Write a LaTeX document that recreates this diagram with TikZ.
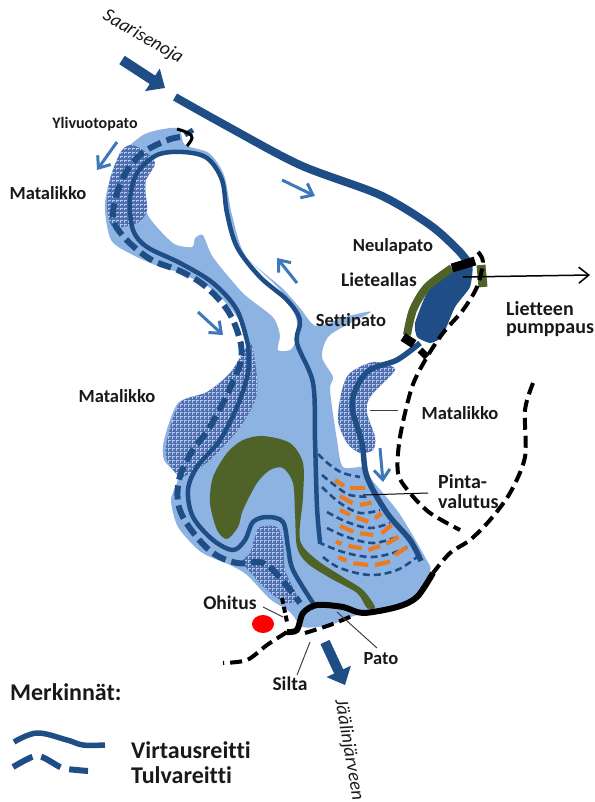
\documentclass[tikz,border=0pt]{standalone}
\usepackage{fontspec}
\setmainfont[Ligatures=NoCommon]{Carlito}
\usetikzlibrary{arrows.meta}
\definecolor{lake}{HTML}{8DB3E2}
\definecolor{river}{HTML}{1F4E87}
\definecolor{mud}{HTML}{4F6228}
\definecolor{flow}{HTML}{3F78B8}
\definecolor{orng}{HTML}{E87B23}
\definecolor{stip}{HTML}{4F6FB0}
\definecolor{stipl}{HTML}{B5C9EA}
\newcommand{\fs}[1]{\fontsize{#1}{#1}\selectfont}
\tikzset{
 lbl/.style={font=\fs{18.5}\bfseries,text=black!90,inner sep=0pt},
 ital/.style={font=\fs{19}\itshape,text=black!90,inner sep=0pt},
 lgd/.style={font=\fs{24}\bfseries,text=black!90,inner sep=0pt,anchor=west},
 route/.style={draw=river,line width=4.5pt,line cap=round,line join=round},
 flood/.style={draw=river,line width=6pt,dash pattern=on 14pt off 6pt},
 seep/.style={draw=river,line width=2.6pt,dash pattern=on 7pt off 4pt},
 road/.style={draw=black,line width=4pt,dash pattern=on 12pt off 6pt},
 dam/.style={draw=black,line width=9pt},
 wall/.style={draw=mud,line width=8pt},
 small/.style={draw=flow,line width=3pt,-{Straight Barb[length=10pt,width=16pt]}},
 big/.style={draw=river,line width=10pt,-{Triangle[length=15pt,width=26pt]}},
 leader/.style={draw=black!75,line width=1pt},
 orngd/.style={draw=orng,line width=4.2pt},
}
\newcommand{\stippgrid}{%
 \foreach \q in {0,4,...,800}{\draw[stipl,line width=1pt,dash pattern=on 2.5pt off 1.5pt] (\q,0) -- (\q,802);}
 \foreach \q in {0,4,...,800}{\draw[stipl,line width=.8pt,dash pattern=on 2.5pt off 1.5pt] (0,\q) -- (594,\q);}
}
\newcommand{\seepline}[1]{\draw[seep] plot[smooth,tension=.6] coordinates {#1};}
\begin{document}
\begin{tikzpicture}[x=1pt,y=-1pt]
\useasboundingbox (0,0) rectangle (594,802);
% lake
\fill[lake] plot[smooth cycle,tension=.45] coordinates {
 (170,128)(143,135)(117,160)(105,203)(111,240)(133,255)(160,267)(180,273)(213,290)(237,317)(248,345)
 (230,373)(207,392)(178,403)(164,440)(164,460)(178,477)(171,500)(178,527)(201,552)(230,565)(247,575)
 (270,599)(290,612)(303,627)(330,625)(357,615)(410,602)(430,572)(425,557)(399,513)(372,480)(365,467)
 (343,467)(337,440)(330,390)(333,377)(322,357)(330,335)(371,312)(345,317)(316,326)(300,308)(282,288)(245,255)(232,215)(224,175)(209,153)(185,145)(180,130)};
% white island
\fill[white] plot[smooth cycle,tension=.4] coordinates {
 (177,150)(157,157)(147,173)(147,213)(173,243)(192,247)(195,238)(203,235)(213,257)(243,293)(273,317)(280,335)(278,350)(290,350)(296,340)(296,318)(280,290)(237,247)(227,207)(220,173)(207,157)};
% stippled shallows
\begin{scope}
 \clip plot[smooth cycle,tension=.5] coordinates {(130,145)(120,153)(110,180)(107,207)(113,227)(137,223)(147,210)(145,183)(155,163)(143,150)};
 \fill[stip] (0,0) rectangle (594,802); \stippgrid
\end{scope}
\begin{scope}
 \clip plot[smooth cycle,tension=.5] coordinates {(248,345)(230,373)(207,392)(180,403)(167,440)(167,460)(180,477)(190,473)(210,460)(240,427)(257,393)(253,350)};
 \fill[stip] (0,0) rectangle (594,802); \stippgrid
\end{scope}
\begin{scope}
 \clip plot[smooth cycle,tension=.5] coordinates {(350,373)(373,362)(393,367)(393,373)(370,397)(367,413)(375,437)(373,450)(360,453)(347,443)(338,420)(342,390)};
 \fill[stip] (0,0) rectangle (594,802); \stippgrid
\end{scope}
\begin{scope}
 \clip plot[smooth cycle,tension=.5] coordinates {(260,527)(277,527)(283,543)(285,570)(297,597)(287,603)(267,590)(243,563)(250,553)(255,537)};
 \fill[stip] (0,0) rectangle (594,802); \stippgrid
\end{scope}
% sediment crescent
\fill[mud] plot[smooth cycle,tension=.5] coordinates {
 (263,436)(290,443)(303,463)(303,497)(300,540)(317,560)(343,577)(363,590)(375,607)(367,608)(357,593)(330,578)(307,563)(297,547)(295,513)(293,483)(283,468)(270,470)(257,483)(243,510)(238,527)(227,539)(217,530)(210,503)(213,477)(227,453)(243,440)};
% surface runoff
\seepline{(318,454)(330,465)(343,473)(360,477)}
\seepline{(322,475)(337,487)(350,495)(370,497)}
\seepline{(322,487)(340,503)(360,513)(380,510)}
\seepline{(327,512)(347,522)(370,528)(390,523)}
\seepline{(327,528)(347,537)(373,543)(397,537)}
\seepline{(318,542)(343,552)(370,557)(393,553)(407,547)}
\seepline{(323,557)(340,568)(370,575)(397,570)(417,557)}
\begin{scope}[shift={(130,340)},x=.3333pt,y=-.3333pt]
 \foreach \ax/\ay/\bx/\by in {615/420/642/438,660/445/705/445,630/468/668/490,690/495/725/488,630/510/660/525,678/532/715/545,735/535/755/520,630/558/670/575,690/580/730/585,755/580/785/555,618/605/635/612,655/618/695/625,715/630/750/618,770/612/805/590,795/645/830/622,625/652/650/662,670/670/715/675,735/675/780/665}
 {\draw[orngd] (\ax,\ay) -- (\bx,\by);}
\end{scope}
% flood route west
\draw[flood] plot[smooth,tension=.6] coordinates {(180,137)(165,141)(140,155)(122,180)(113,215)(123,236)(150,259)(180,271)(205,286)(228,311)(240,340)(241,360)(235,377)(223,403)(208,430)(191,453)(179,480)(179,507)(192,531)(213,553)(237,563)(263,563)(282,580)(300,603)};
% main routes
\draw[route] plot[smooth,tension=.55] coordinates {(248,345)(237,310)(213,283)(180,263)(147,247)(133,230)(130,200)(137,173)(157,155)(183,152)(207,158)(222,180)(227,213)(237,247)(260,277)(287,300)(300,320)(297,343)(313,383)(315,440)(317,507)(320,542)};
\draw[route] plot[smooth,tension=.55] coordinates {(248,345)(248,373)(237,407)(220,440)(197,467)(188,490)(193,517)(213,540)(233,550)(245,540)(253,522)(267,517)(283,522)(288,547)(293,570)(313,603)};
\draw[route,line width=5.5pt,line cap=butt] plot[smooth,tension=.55] coordinates {(420,343)(397,360)(367,372)(352,403)(362,443)(367,477)(387,513)(410,540)(421,561)};
\draw[draw=river,line width=8pt] plot[smooth,tension=.5] coordinates {(175,97)(225,125)(300,165)(380,195)(430,225)(458,250)(470,265)};
% pond
\fill[river] plot[smooth cycle,tension=.3] coordinates {(472,265)(470,287)(455,307)(442,337)(430,343)(417,337)(415,323)(427,293)(450,270)};
\draw[wall] plot[smooth,tension=.5] coordinates {(407,335)(413,310)(427,287)(452,268)};
\draw[wall,line width=9pt] (481,265) -- (483,287);
\draw[dam] (452,268) -- (475,261);
\draw[dam] (403,337) -- (414,344);
\draw[dam,line width=7pt] (420,350) -- (427,357);
% overflow dam
\draw[draw=river,line width=5pt] (193,130) -- (185,135);
\draw[black,line width=3pt] plot[smooth,tension=.7] coordinates {(177,129)(188,133)(192,138)(187,146)};
% roads
\draw[road] plot[smooth,tension=.5] coordinates {(478,252)(483,262)(477,287)(463,310)(443,333)(427,357)(412,387)(400,437)(398,473)(410,493)(430,513)(460,530)};
\draw[road] plot[smooth,tension=.5] coordinates {(533,383)(525,410)(525,457)(510,493)(490,520)(470,540)(450,553)(433,573)};
\draw[black,line width=6pt,line join=round] plot[smooth,tension=.5] coordinates {(433,573)(417,597)(397,607)(363,613)(343,607)(317,605)(303,613)(297,630)(287,632)};
\draw[road] plot[smooth,tension=.5] coordinates {(287,632)(267,645)(247,660)(223,663)};
\draw[road] plot[smooth,tension=.5] coordinates {(305,633)(330,625)(352,616)};
\draw[road,dash pattern=on 6pt off 3pt] (282,598) -- (287,622);
% red spot
\fill[red] (263,624) ellipse [x radius=11,y radius=9];
% pumping arrow
\draw[black,line width=1.5pt,-{Straight Barb[length=10pt,width=16pt]}] (463,277) -- (590,275);
% flow arrows
\draw[small] (117,142) -- (97,170);
\draw[small] (282,180) -- (315,196);
\draw[small] (297,283) -- (277,258);
\draw[small] (198,312) -- (223,335);
\draw[small] (380,448) -- (383,482);
\draw[big] (122,60) -- (165,88);
\draw[big] (325,642) -- (345,685);
% leaders
\draw[leader] (263,607) -- (283,617);
\draw[leader] (337,612) -- (377,648);
\draw[leader] (310,642) -- (297,675);
\draw[leader] (370,410) -- (398,410);
\draw[leader,black] (363,495) -- (428,493);
% labels
\node[ital,rotate=-30] (saar) at (143,37) {Saarisenoja};
\node[lbl,font=\fs{16}\bfseries] (yli) at (95,124) {Ylivuotopato};
\node[lbl] (mat1) at (48,193) {Matalikko};
\node[lbl] (mat2) at (117,396) {Matalikko};
\node[lbl] (mat3) at (460,413) {Matalikko};
\node[lbl] (neula) at (393,246) {Neulapato};
\node[lbl,font=\fs{19.5}\bfseries] (liete) at (379,280) {Lieteallas};
\node[lbl] (sett) at (351,321) {Settipato};
\node[lbl,font=\fs{20}\bfseries,anchor=west] (lp1) at (506,309) {Lietteen};
\node[lbl,font=\fs{20}\bfseries,anchor=west] (lp2) at (506,330) {pumppaus};
\node[lbl,font=\fs{20}\bfseries,anchor=west] (pv1) at (438,482) {Pinta-};
\node[lbl,font=\fs{20}\bfseries,anchor=west] (pv2) at (438,502) {valutus};
\node[lbl,font=\fs{19.5}\bfseries] (ohi) at (230,603) {Ohitus};
\node[lbl] (pato) at (381,659) {Pato};
\node[lbl,font=\fs{19.5}\bfseries] (silta) at (290,684) {Silta};
\node[ital,rotate=-80] (jaa) at (349,750) {Jäälinjärveen};
\node[lgd] (merk) at (10,692) {Merkinnät:};
\node[lgd] (vir) at (131,750) {Virtausreitti};
\node[lgd] (tul) at (131,775) {Tulvareitti};
\draw[route,line width=5.5pt,line cap=butt] plot[smooth,tension=.6] coordinates {(14,742)(37,733)(67,740)(83,745)(105,745)};
\draw[flood,dash pattern=on 22pt off 9pt] plot[smooth,tension=.6] coordinates {(13,767)(32,757)(42,757)(60,767)(67,769)(88,771)};
\end{tikzpicture}
\end{document}
